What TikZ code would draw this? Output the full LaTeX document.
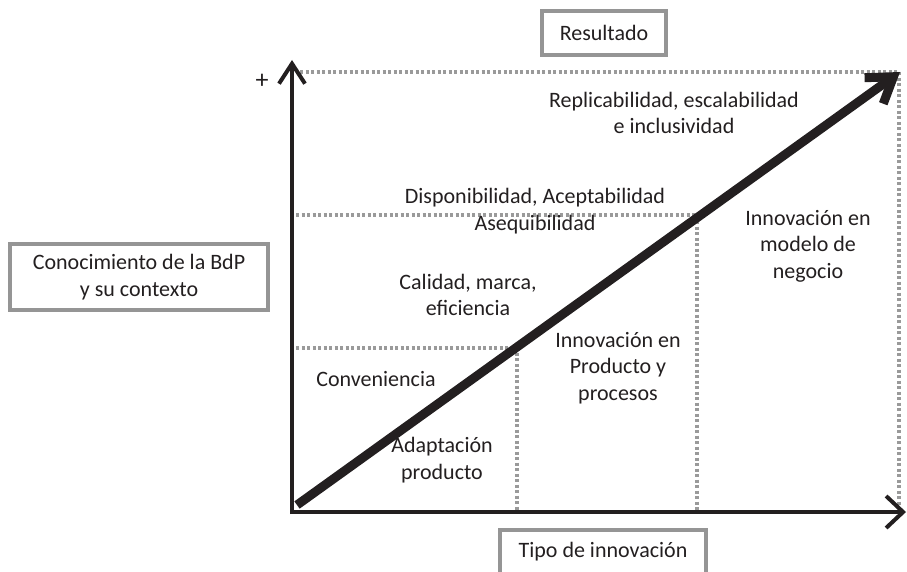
\documentclass[tikz,border=0pt]{standalone}
\usepackage{fontspec}
\setmainfont{Carlito}
\usetikzlibrary{arrows.meta}
\definecolor{boxgray}{HTML}{959595}
\definecolor{dotgray}{HTML}{9A9A9A}
\definecolor{ink}{HTML}{231F20}
\begin{document}
\begin{tikzpicture}[x=1pt,y=-1pt,
  lbl/.style={align=center,inner sep=0pt,text=ink,font=\fontsize{22}{26.5}\selectfont},
  gbox/.style={draw=boxgray,line width=4pt,inner sep=0pt,align=center,text=ink,font=\fontsize{22}{26.5}\selectfont},
  yaxis/.style={draw=ink,line width=4pt,-{Straight Barb[length=20pt,width=26pt]}},
  xaxis/.style={draw=ink,line width=4pt,-{Straight Barb[length=17pt,width=32pt]}},
  bigarrow/.style={draw=ink,line width=9pt,-{Straight Barb[length=24pt,width=32pt]}},
  dotline/.style={draw=dotgray,line width=3.5pt,dash pattern=on 3pt off 2.5pt}]
\useasboundingbox (0,0) rectangle (907,572);
% coordinates
\coordinate (Ytop) at (292,60);
\coordinate (Xend) at (906,512);
\coordinate (D0) at (297,505);
\coordinate (D1) at (900,72);
\coordinate (T1) at (300,72);
\coordinate (T2) at (899,72);
\coordinate (T3) at (899,510);
\coordinate (M1) at (296,215);
\coordinate (M2) at (697,215);
\coordinate (M3) at (697,510);
\coordinate (L1) at (296,348);
\coordinate (L2) at (517,348);
\coordinate (L3) at (517,510);
\coordinate (YB) at (292,514);
\coordinate (XB) at (290,512);
% dotted grid
\draw[dotline] (T1) -- (T2) -- (T3);
\draw[dotline] (M1) -- (M2) -- (M3);
\draw[dotline] (L1) -- (L2) -- (L3);
% axes
\draw[yaxis] (YB) -- (Ytop);
\draw[xaxis] (XB) -- (Xend);
% diagonal
\draw[bigarrow] (D0) -- (D1);
% boxes
\node[gbox,minimum width=124pt,minimum height=44pt] (res) at (604,33) {Resultado};
\node[gbox,minimum width=258pt,minimum height=66pt] (con) at (139,277) {Conocimiento de la BdP\\y su contexto};
\node[gbox,minimum width=206pt,minimum height=44pt] (tipo) at (603,552) {Tipo de innovación};
% labels
\node[lbl,font=\fontsize{26}{30}\selectfont] (plus) at (262,81) {+};
\node[lbl] (rep) at (674,113) {Replicabilidad, escalabilidad\\e inclusividad};
\node[lbl] (disp) at (535,211) {Disponibilidad, Aceptabilidad\\Asequibilidad};
\node[lbl] (mod) at (808,246) {Innovación en\\modelo de\\negocio};
\node[lbl] (cal) at (468,295) {Calidad, marca,\\eficiencia};
\node[lbl] (prod) at (618,368) {Innovación en\\Producto y\\procesos};
\node[lbl] (conv) at (376,379) {Conveniencia};
\node[lbl] (adap) at (442,460) {Adaptación\\producto};
\end{tikzpicture}
\end{document}
